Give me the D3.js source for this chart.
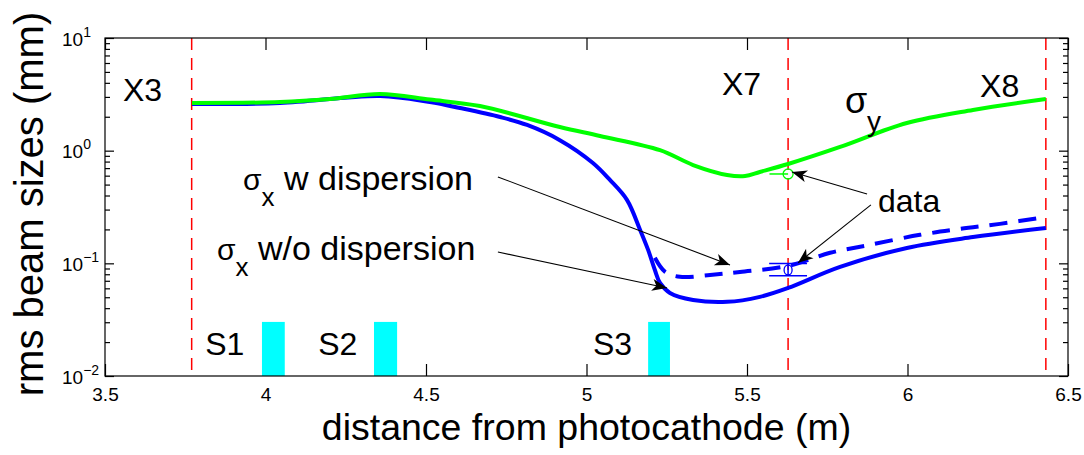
<!DOCTYPE html>
<html>
<head>
<meta charset="utf-8">
<script src="https://cdn.jsdelivr.net/npm/d3@7"></script>
<style>
  body { margin: 0; background: #fff; }
  svg text { font-family: "Liberation Sans", Arial, Helvetica, sans-serif; fill: #000; }
</style>
</head>
<body>
<div id="chart"></div>
<script>
const width = 1084, height = 455
const margin = {left: 105, right: 16, top: 38, bottom: 79}
const plot_w = width - margin.left - margin.right
const plot_h = height - margin.top - margin.bottom

// sigma_y (green)
const sigma_y_pos = [3.771, 4.045, 4.201, 4.357, 4.512, 4.668, 4.917, 5.042, 5.229, 5.332, 5.438, 5.494, 5.540, 5.628, 5.790, 5.998, 6.204, 6.431]
const sigma_y_mm  = [2.65, 2.70, 2.87, 3.18, 2.84, 2.49, 1.62, 1.35, 1.01, 0.746, 0.609, 0.596, 0.647, 0.762, 1.08, 1.76, 2.30, 2.87]

// sigma_x without dispersion (blue solid)
const sigma_x_pos = [3.771, 4.045, 4.357, 4.512, 4.606, 4.731, 4.815, 4.917, 5.020, 5.073, 5.126, 5.167, 5.192, 5.213, 5.229, 5.260, 5.332, 5.438, 5.540, 5.628, 5.790, 5.998, 6.204, 6.431]
const sigma_x_mm  = [2.60, 2.65, 3.06, 2.70, 2.39, 1.99, 1.69, 1.24, 0.778, 0.55, 0.366, 0.198, 0.1316, 0.0873, 0.067, 0.0546, 0.0473, 0.0455, 0.0504, 0.0605, 0.093, 0.137, 0.171, 0.206]

// sigma_x with dispersion (blue dashed)
const sigma_xd_pos = [5.213, 5.245, 5.291, 5.385, 5.478, 5.628, 5.759, 5.883, 6.039, 6.164, 6.288, 6.431]
const sigma_xd_mm  = [0.112, 0.084, 0.0759, 0.0789, 0.0839, 0.0949, 0.124, 0.146, 0.179, 0.202, 0.224, 0.258]

// screens
const screen_names = ["X3", "X7", "X8"]
const screen_pos = [3.77, 5.628, 6.431]

// solenoids
const solenoid_names = ["S1", "S2", "S3"]
const solenoid_start = [3.989, 4.338, 5.192]
const solenoid_end = [4.06, 4.41, 5.26]
const solenoid_top = 0.0302

// measured points at X7
const data_pos = 5.628
const data_y = 0.621
const data_y_err_left = 5.57
const data_x = 0.0873
const data_x_err = [0.0775, 0.0996]
const data_x_err_span = [5.569, 5.687]

const x_ticks = [3.5, 4, 4.5, 5, 5.5, 6, 6.5]
const y_exponents = [-2, -1, 0, 1]

const svg = d3.select("#chart").append("svg")
    .attr("width", width)
    .attr("height", height)

const g = svg.append("g").attr("transform", `translate(${margin.left},${margin.top})`)

const x = d3.scaleLinear().domain([3.5, 6.5]).range([0, plot_w])
const y = d3.scaleLog().domain([0.01, 10]).range([plot_h, 0])

const defs = svg.append("defs")
defs.append("marker")
    .attr("id", "head")
    .attr("viewBox", "-16 -7 18 14")
    .attr("refX", 0).attr("refY", 0)
    .attr("markerWidth", 18).attr("markerHeight", 14)
    .attr("markerUnits", "userSpaceOnUse")
    .attr("orient", "auto")
    .append("path")
    .attr("d", "M0,0 L-15,-6 L-11,0 L-15,6 Z")
    .attr("fill", "#000")

// axes: ticks point inward on all four sides
const major_y = y_exponents.map(e => Math.pow(10, e))
const minor_y = []
for (const e of y_exponents.slice(0, 3)) {
    for (let k = 2; k <= 9; k++) minor_y.push(k * Math.pow(10, e))
}

const axis_bottom = g.append("g").attr("transform", `translate(0,${plot_h})`)
    .call(d3.axisBottom(x).tickValues(x_ticks).tickSize(-12).tickSizeOuter(0).tickPadding(12).tickFormat(d3.format("")))
const axis_top = g.append("g")
    .call(d3.axisTop(x).tickValues(x_ticks).tickSize(-12).tickSizeOuter(0).tickFormat(""))
const left_major = g.append("g")
    .call(d3.axisLeft(y).tickValues(major_y).tickSize(-9).tickSizeOuter(0).tickFormat(""))
const left_minor = g.append("g")
    .call(d3.axisLeft(y).tickValues(minor_y).tickSize(-5).tickSizeOuter(0).tickFormat(""))
const right_major = g.append("g").attr("transform", `translate(${plot_w},0)`)
    .call(d3.axisRight(y).tickValues(major_y).tickSize(-9).tickSizeOuter(0).tickFormat(""))
const right_minor = g.append("g").attr("transform", `translate(${plot_w},0)`)
    .call(d3.axisRight(y).tickValues(minor_y).tickSize(-5).tickSizeOuter(0).tickFormat(""))

for (const a of [axis_bottom, axis_top, left_major, left_minor, right_major, right_minor]) {
    a.select(".domain").remove()
    a.selectAll(".tick line").attr("stroke", "#000").attr("stroke-width", 1.2)
}
axis_bottom.selectAll(".tick text").attr("font-size", 19).attr("fill", "#000")

// y labels as 10^n
left_major.selectAll(".tick text")
    .attr("x", -43).attr("dy", 7)
    .attr("text-anchor", "start")
    .attr("font-size", 19)
    .each(function(d) {
        const t = d3.select(this)
        const e = Math.round(Math.log10(d))
        t.append("tspan").text("10")
        t.append("tspan").attr("dy", -9).attr("font-size", 14)
            .text(e < 0 ? "\u2212" + Math.abs(e) : String(e))
    })

// red dashed screen lines
g.selectAll(".screen")
    .data(screen_pos)
    .join("line")
    .attr("x1", d => x(d)).attr("x2", d => x(d))
    .attr("y1", 0).attr("y2", plot_h)
    .attr("stroke", "#ff0000")
    .attr("stroke-width", 1.5)
    .attr("stroke-dasharray", "12,8")

// solenoid bars
g.selectAll(".sol")
    .data(solenoid_names)
    .join("rect")
    .attr("x", (d, i) => x(solenoid_start[i]))
    .attr("width", (d, i) => x(solenoid_end[i]) - x(solenoid_start[i]))
    .attr("y", y(solenoid_top))
    .attr("height", plot_h - y(solenoid_top))
    .attr("fill", "#00ffff")

const line = d3.line()
    .x(d => x(d[0]))
    .y(d => y(d[1]))
    .curve(d3.curveCatmullRom.alpha(0.5))

g.append("path")
    .attr("d", line(d3.zip(sigma_x_pos, sigma_x_mm)))
    .attr("fill", "none").attr("stroke", "#0000ff").attr("stroke-width", 4)

g.append("path")
    .attr("d", line(d3.zip(sigma_xd_pos, sigma_xd_mm)))
    .attr("fill", "none").attr("stroke", "#0000ff").attr("stroke-width", 4)
    .attr("stroke-dasharray", "18,11")

g.append("path")
    .attr("d", line(d3.zip(sigma_y_pos, sigma_y_mm)))
    .attr("fill", "none").attr("stroke", "#00ff00").attr("stroke-width", 4)

// measured points
g.append("line")
    .attr("x1", x(data_y_err_left)).attr("x2", x(data_pos))
    .attr("y1", y(data_y)).attr("y2", y(data_y))
    .attr("stroke", "#00ff00").attr("stroke-width", 1.5)
g.append("circle")
    .attr("cx", x(data_pos)).attr("cy", y(data_y)).attr("r", 5)
    .attr("fill", "none").attr("stroke", "#00ff00").attr("stroke-width", 1.3)

for (const v of data_x_err) {
    g.append("line")
        .attr("x1", x(data_x_err_span[0])).attr("x2", x(data_x_err_span[1]))
        .attr("y1", y(v)).attr("y2", y(v))
        .attr("stroke", "#0000ff").attr("stroke-width", 1.5)
}
g.append("line")
    .attr("x1", x(data_pos)).attr("x2", x(data_pos))
    .attr("y1", y(data_x_err[0])).attr("y2", y(data_x_err[1]))
    .attr("stroke", "#0000ff").attr("stroke-width", 1.5)
g.append("ellipse")
    .attr("cx", x(data_pos)).attr("cy", y(data_x)).attr("rx", 4).attr("ry", 5)
    .attr("fill", "none").attr("stroke", "#0000ff").attr("stroke-width", 1.3)

// arrows [from x, from y, to x, to y] in data units
const arrows = [
    [4.724, 0.585, 5.447, 0.0968],
    [4.724, 0.126, 5.251, 0.0605],
    [5.874, 0.413, 5.640, 0.647],
    [5.886, 0.330, 5.659, 0.101]
]
g.selectAll(".arrow")
    .data(arrows)
    .join("line")
    .attr("x1", d => x(d[0])).attr("y1", d => y(d[1]))
    .attr("x2", d => x(d[2])).attr("y2", d => y(d[3]))
    .attr("stroke", "#000").attr("stroke-width", 1.1)
    .attr("marker-end", "url(#head)")

// plain labels: text, x, y (data units)
const notes = [
    ["X3", 3.556, 2.76],
    ["X7", 5.422, 3.12],
    ["X8", 6.226, 2.99],
    ["data", 5.908, 0.286]
]
g.selectAll(".note")
    .data(notes)
    .join("text")
    .attr("x", d => x(d[1])).attr("y", d => y(d[2]))
    .attr("font-size", 32)
    .text(d => d[0])

g.selectAll(".sol-label")
    .data(solenoid_names)
    .join("text")
    .attr("x", (d, i) => x([3.812, 4.164, 5.020][i]))
    .attr("y", y(0.01538))
    .attr("font-size", 32)
    .text(d => d)

// sigma labels with subscripts
function sigmaLabel(px, py, sub, rest, size, sigSize, subSize, drop) {
    const t = g.append("text").attr("x", x(px)).attr("y", y(py)).attr("font-size", size)
    t.append("tspan").attr("font-size", sigSize).text("\u03c3")
    t.append("tspan").attr("font-size", subSize).attr("dy", drop).text(sub)
    if (rest) t.append("tspan").attr("dy", -drop).text(rest)
}
sigmaLabel(3.930, 0.448, "x", " w dispersion", 34, 30, 26, 16)
sigmaLabel(3.849, 0.107, "x", " w/o dispersion", 34, 30, 26, 16)
sigmaLabel(5.805, 2.16, "y", null, 36, 36, 28, 18)

// frame
g.append("rect")
    .attr("width", plot_w).attr("height", plot_h)
    .attr("fill", "none").attr("stroke", "#000").attr("stroke-width", 1.2)

// axis titles
svg.append("text")
    .attr("x", margin.left + plot_w / 2).attr("y", 440)
    .attr("text-anchor", "middle")
    .attr("font-size", 37.5)
    .text("distance from photocathode (m)")

svg.append("text")
    .attr("transform", "translate(43,204) rotate(-90)")
    .attr("text-anchor", "middle")
    .attr("font-size", 40)
    .text("rms beam sizes (mm)")
</script>
</body>
</html>
